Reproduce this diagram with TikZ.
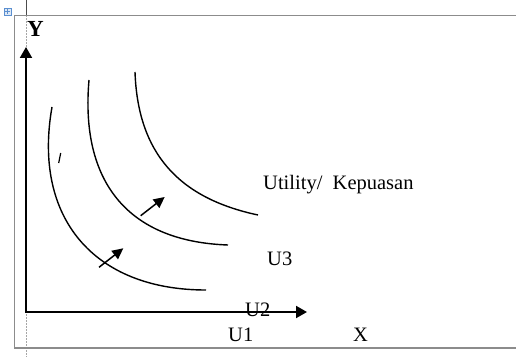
\documentclass[tikz,border=0pt]{standalone}
\usepackage{fontspec}
\setmainfont{Liberation Serif}
\usepackage{xcolor}
\usepackage{tikz}
\usetikzlibrary{arrows.meta}
\definecolor{FrameGray}{HTML}{8C8C8C}
\definecolor{HandleBlue}{HTML}{5B8FD0}

\begin{document}
\begin{tikzpicture}[
  x=1pt,y=1pt,
  frame/.style={draw=FrameGray,line width=1.3pt},
  guide/.style={draw=gray!70,densely dotted,line width=0.5pt},
  handle/.style={draw=HandleBlue,fill=HandleBlue!20,minimum size=7pt,inner sep=0pt},
  axis/.style={{Triangle[length=11pt,width=12pt]}-{Triangle[length=11pt,width=12pt]},line width=2pt},
  curve/.style={line width=1.4pt},
  shiftarr/.style={-{Triangle[length=11pt,width=10.5pt]},line width=1.5pt},
  lbl/.style={anchor=base west,inner sep=0pt,font=\fontsize{20.5}{24}\selectfont}
]
\useasboundingbox (0,0) rectangle (516,356);
% page marks
\draw[guide] (26,0) -- (26,356);
\draw[gray!60!black,line width=0.8pt] (26,356) -- (26,340.5);
\draw[frame] (516,340.5) -- (14.3,340.5) -- (14.3,8) -- (516,8);
\node[handle] (hdl) at (7.5,344.5) {};
\draw[HandleBlue,line width=0.5pt] ([yshift=-1.2pt]hdl.north) -- ([yshift=1.2pt]hdl.south);
\draw[HandleBlue,line width=0.5pt] ([xshift=1.2pt]hdl.west) -- ([xshift=-1.2pt]hdl.east);
% axes
\coordinate (O) at (26,44);
\coordinate (ytip) at (26,309);
\coordinate (xtip) at (307,44);
\draw[axis] (ytip) -- (O) -- (xtip);
% indifference curves
\draw[curve] (52,249) to[out=260,in=180,looseness=1.2] (206,66);
\draw[curve] (89,276) to[out=265,in=178,looseness=1.2] (228,111);
\draw[curve] (135,284) to[out=272,in=168,looseness=1.1] (258,141);
\draw[line width=1.2pt] (60.7,203) -- (58.7,193);
% shift arrows
\coordinate (s1) at (99,88.7);
\coordinate (t1) at (123.3,107.7);
\coordinate (s2) at (140.7,140.3);
\coordinate (t2) at (164.7,159);
\draw[shiftarr] (s1) -- (t1);
\draw[shiftarr] (s2) -- (t2);
% labels
\node[lbl] (util) at (263,166.7) {Utility/\ \ Kepuasan};
\node[lbl] (u3) at (267,91) {U3};
\node[lbl] (u2) at (245,40) {U2};
\node[lbl] (u1) at (228,14.3) {U1};
\node[lbl] (xlab) at (353,14.3) {X};
\node[lbl,font=\fontsize{23}{26}\selectfont\bfseries] (ylab) at (27,319) {Y};
\end{tikzpicture}
\end{document}
